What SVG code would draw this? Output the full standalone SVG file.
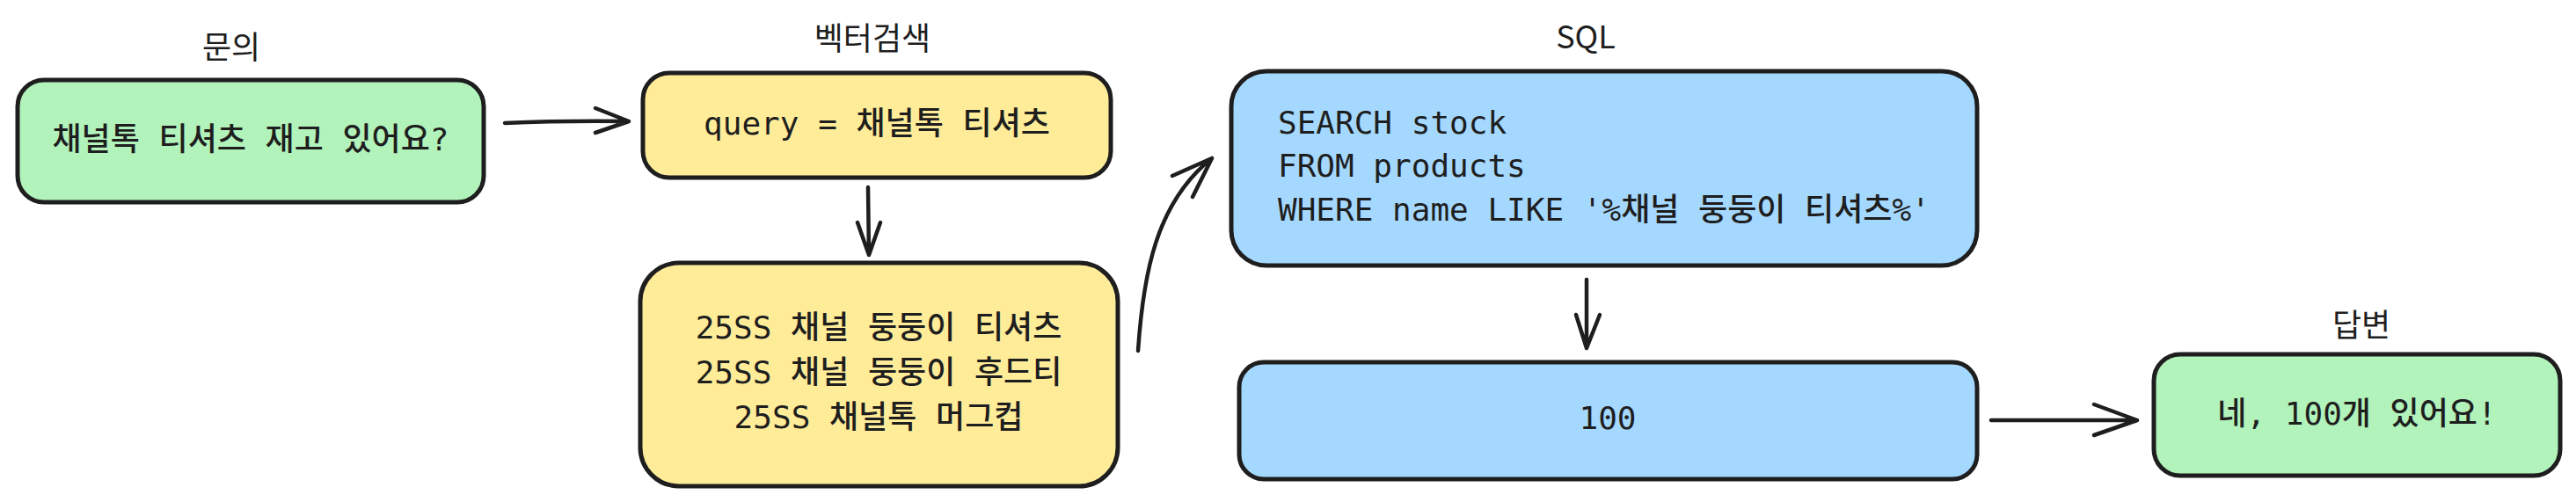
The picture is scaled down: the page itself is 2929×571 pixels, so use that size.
<svg xmlns="http://www.w3.org/2000/svg" width="2929" height="571" viewBox="0 0 2929 571">
<style>
.box{stroke:#1e1e1e;stroke-width:5;stroke-linejoin:round}
.green{fill:#b2f2bb}
.yellow{fill:#ffec99}
.blue{fill:#a5d8ff}
.t{font-family:"DejaVu Sans Mono","Noto Sans CJK KR",monospace;font-size:36px;font-weight:500;fill:#1e1e1e}
.lbl{font-family:"Noto Sans CJK KR","Noto Sans",sans-serif;font-size:36px;fill:#1e1e1e;text-anchor:middle}
.c{text-anchor:middle}
.ln{fill:none;stroke:#1e1e1e;stroke-width:4.5;stroke-linecap:round;stroke-linejoin:round}
</style>
<rect width="2929" height="571" fill="#ffffff"/>
<g id="label-query"><text class="lbl" x="263" y="67">문의</text></g>
<g id="label-vector"><text class="lbl" x="992" y="57">벡터검색</text></g>
<g id="label-sql"><text class="lbl" x="1803" y="55">SQL</text></g>
<g id="label-answer"><text class="lbl" x="2685" y="383">답변</text></g>

<g id="node-question">
<rect class="box green" x="20" y="91" width="530" height="139" rx="30"/>
<text class="t c" x="285" y="171">채널톡 티셔츠 재고 있어요?</text>
</g>
<g id="node-vector-query">
<rect class="box yellow" x="731" y="83" width="532" height="119" rx="30"/>
<text class="t c" x="997" y="153">query = 채널톡 티셔츠</text>
</g>
<g id="node-vector-results">
<rect class="box yellow" x="728" y="299" width="543" height="254" rx="44"/>
<text class="t c" x="999" y="385">25SS 채널 둥둥이 티셔츠</text>
<text class="t c" x="999" y="436">25SS 채널 둥둥이 후드티</text>
<text class="t c" x="999" y="487">25SS 채널톡 머그컵</text>
</g>
<g id="node-sql">
<rect class="box blue" x="1400" y="81" width="848" height="221" rx="40"/>
<text class="t" x="1453" y="152">SEARCH stock</text>
<text class="t" x="1453" y="201">FROM products</text>
<text class="t" x="1453" y="251">WHERE name LIKE '%채널 둥둥이 티셔츠%'</text>
</g>
<g id="node-result">
<rect class="box blue" x="1409" y="412" width="839" height="133" rx="28"/>
<text class="t c" x="1828" y="488">100</text>
</g>
<g id="node-answer">
<rect class="box green" x="2449" y="403" width="462" height="138" rx="30"/>
<text class="t c" x="2680" y="483">네, 100개 있어요!</text>
</g>

<g id="connectors">
<path class="ln" d="M574,140 Q640,137 715,138 M677,123 L715,138 L677,151"/>
<path class="ln" d="M987,213 L988,290 M975,253 L988,290 L1001,253"/>
<path class="ln" d="M1294,399 C1300,310 1315,230 1378,180 M1333,200 L1378,180 L1356,224"/>
<path class="ln" d="M1804,318 L1804,396 M1792,358 L1804,396 L1819,358"/>
<path class="ln" d="M2264,478 L2430,478 M2381,460 L2430,478 L2381,495"/>
</g>
</svg>
